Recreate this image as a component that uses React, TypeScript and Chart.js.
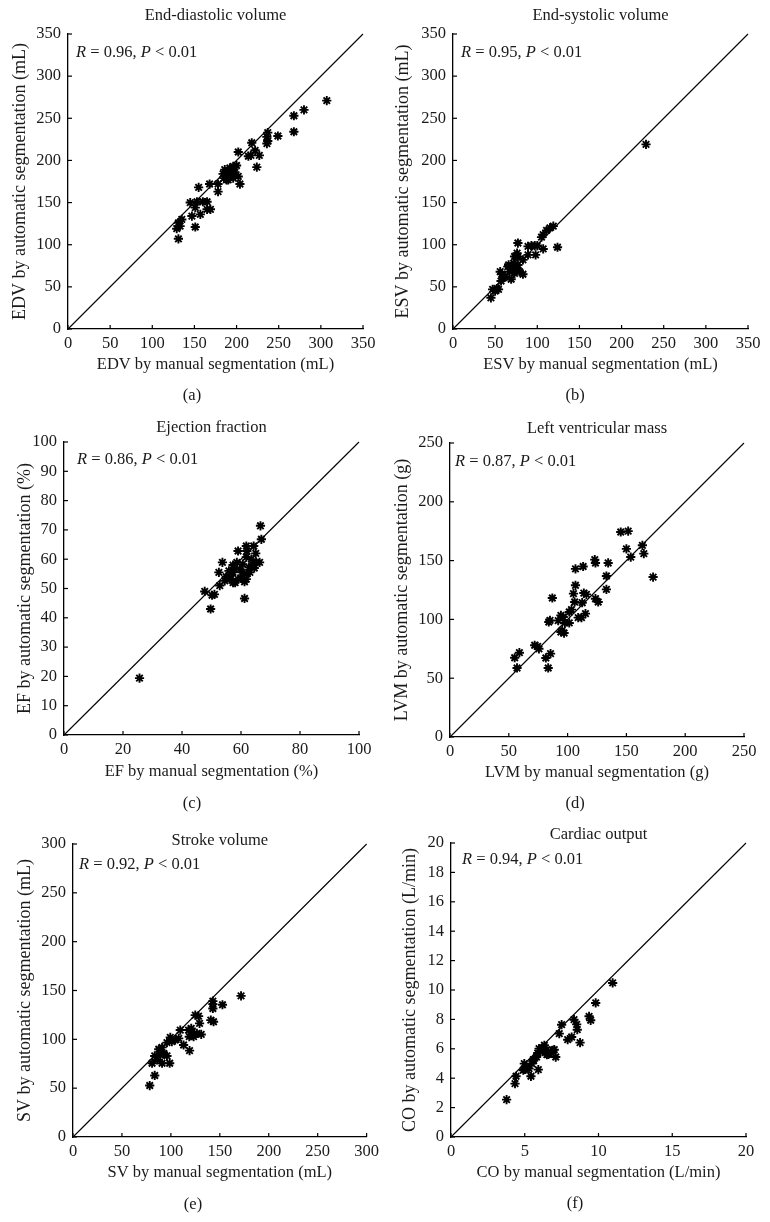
import React, { useEffect, useRef } from "react";
import { Chart, registerables } from "chart.js";
Chart.register(...registerables);

// ---------------- DATA ----------------
const edvManual = [307, 280, 268, 268, 249, 237, 236, 237, 236, 218, 222, 217, 227, 214, 224, 202, 202, 204, 200, 196, 192, 194, 188, 184, 185, 188, 192, 196, 198, 186, 190, 178, 168, 178, 155, 145, 153, 160, 165, 151, 165, 169, 147, 157, 151, 135, 131, 133, 129, 131];
const edvAuto = [271, 260, 253, 234, 229, 233, 228, 223, 220, 221, 212, 206, 206, 205, 192, 210, 181, 172, 194, 193, 191, 187, 185, 184, 179, 177, 181, 179, 186, 189, 177, 172, 172, 163, 168, 150, 151, 151, 151, 144, 142, 142, 134, 136, 121, 130, 126, 122, 119, 107];

const esvManual = [229, 124, 107, 115, 119, 111, 107, 105, 97, 93, 89, 98, 89, 83, 77, 76, 77, 73, 77, 76, 69, 79, 67, 73, 83, 65, 66, 56, 60, 57, 69, 54, 50, 47, 45, 100, 58, 74, 52, 62, 72];
const esvAuto = [219, 97, 95, 120, 122, 117, 112, 109, 99, 99, 98, 88, 88, 82, 102, 90, 86, 86, 76, 72, 74, 68, 68, 66, 65, 74, 76, 68, 61, 57, 59, 47, 45, 47, 37, 99, 65, 70, 48, 62, 78];

const efManual = [25.6, 49.7, 47.7, 50.2, 51, 52.8, 54.5, 52.5, 53.7, 61.2, 66.6, 66.9, 59, 61.8, 64.3, 62, 57.3, 56.2, 57.3, 59, 58.6, 57.3, 60.5, 61.8, 61.2, 63, 64, 65.2, 66.3, 65, 63.5, 62.7, 59.6, 57.8, 55.9, 61.8, 60.6, 58, 60, 64.5, 56.5, 62, 55];
const efAuto = [19.4, 43, 49, 47.7, 48, 51, 52.6, 55.5, 58.9, 46.6, 71.4, 66.8, 62.8, 64.5, 64.5, 62.8, 55.5, 53.2, 52, 53.2, 58.9, 58, 55.5, 53.2, 52.3, 55.5, 58, 58.9, 58.9, 62, 60, 57.2, 56.6, 56.6, 56, 60.7, 58.3, 52, 53.5, 57, 54.5, 55, 54];

const lvmManual = [55, 59, 57, 72, 74.5, 75.6, 81.5, 83.5, 85.5, 84, 85, 87, 92, 94.3, 96.3, 97.7, 95.4, 97, 94.3, 101.4, 101.4, 103.3, 106, 105, 106.7, 106.7, 109, 111.8, 113.2, 113.8, 112.4, 115.2, 116, 123.7, 126, 123.1, 123.7, 133, 133, 134.5, 145.2, 151.5, 150, 153.7, 163.6, 164.8, 172.7];
const lvmAuto = [67.4, 71.7, 58.7, 78, 77, 75, 67.2, 58.7, 70.9, 97.8, 99.2, 118.2, 99, 103.4, 102, 97, 90.7, 88.4, 89.3, 97, 106.3, 108.3, 114.8, 121.9, 129, 143, 101.5, 101.5, 145, 122.4, 114.2, 104.9, 121.3, 117.6, 114.8, 150.8, 148, 136.9, 125.5, 148, 174.3, 175.1, 160, 153, 163, 155.9, 136];

const svManual = [171.7, 152.7, 142.9, 142.9, 142.9, 140.8, 143.6, 124.9, 128.3, 129.3, 131, 126.6, 121.5, 120.8, 118, 118.8, 123.2, 119.1, 109.6, 108, 104.5, 113, 101, 99.4, 96, 91, 87.6, 92.7, 96, 89.3, 83.5, 86, 80.8, 91, 98.8, 83.5, 78.4];
const svAuto = [144.5, 135.4, 139.1, 136, 131.6, 119.7, 118, 124.8, 123.8, 116.3, 105, 106, 107.8, 111.2, 109.5, 102.7, 102.7, 88.4, 109.5, 101, 99.3, 94.2, 97.6, 102, 96.6, 91.8, 89.8, 85.7, 83, 84, 83, 78.9, 75.5, 75.5, 75.5, 63, 52.7];

const coManual = [10.96, 9.81, 9.36, 9.47, 8.34, 8.52, 8.56, 8.75, 7.5, 7.34, 7.91, 8.18, 7.0, 7.1, 6.82, 6.6, 6.49, 6.33, 6.15, 5.97, 5.88, 5.8, 5.58, 5.47, 5.92, 5.42, 4.97, 5.13, 4.9, 5.29, 4.41, 4.34, 3.77, 6.2, 5.6, 6.5, 5.0, 6.9];
const coAuto = [10.48, 9.12, 8.21, 7.94, 7.98, 7.66, 7.3, 6.42, 7.64, 7.03, 6.62, 6.8, 5.94, 5.44, 5.71, 5.62, 5.94, 6.24, 6.01, 6.01, 5.71, 5.44, 5.26, 4.99, 4.58, 4.13, 4.99, 4.76, 4.54, 4.65, 4.13, 3.63, 2.54, 5.8, 5.2, 5.6, 4.6, 5.9];

const titles = ["End-diastolic volume", "End-systolic volume", "Ejection fraction", "Left ventricular mass", "Stroke volume", "Cardiac output"];
const xTitles = ["EDV by manual segmentation (mL)", "ESV by manual segmentation (mL)", "EF by manual segmentation (%)", "LVM by manual segmentation (g)", "SV by manual segmentation (mL)", "CO by manual segmentation (L/min)"];
const yTitles = ["EDV by automatic segmentation (mL)", "ESV by automatic segmentation (mL)", "EF by automatic segmentation (%)", "LVM by automatic segmentation (g)", "SV by automatic segmentation (mL)", "CO by automatic segmentation (L/min)"];
const rValues = ["0.96", "0.95", "0.86", "0.87", "0.92", "0.94"];
const panelLabels = ["(a)", "(b)", "(c)", "(d)", "(e)", "(f)"];
const axisMax = [350, 350, 100, 250, 300, 20];
const xSteps = [50, 50, 20, 50, 50, 5];
const ySteps = [50, 50, 10, 50, 50, 2];
const manualSeries = [edvManual, esvManual, efManual, lvmManual, svManual, coManual];
const autoSeries = [edvAuto, esvAuto, efAuto, lvmAuto, svAuto, coAuto];

// ---------------- LAYOUT (page px) ----------------
const layouts = [
  { cx: 0, cy: 0, cw: 385, ch: 405, L: 68, T: 34, R: 363, B: 329, titleY: 16, yTitleX: 20, xTitleY: 365, labelX: 192, labelY: 396, annDx: 8, annDy: 19 },
  { cx: 385, cy: 0, cw: 385, ch: 405, L: 453, T: 34, R: 748, B: 329, titleY: 16, yTitleX: 403, xTitleY: 365, labelX: 575, labelY: 396, annDx: 8, annDy: 19 },
  { cx: 0, cy: 405, cw: 385, ch: 410, L: 64, T: 442, R: 359, B: 735, titleY: 428, yTitleX: 25, xTitleY: 772, labelX: 192, labelY: 804, annDx: 13, annDy: 18 },
  { cx: 385, cy: 405, cw: 385, ch: 410, L: 450, T: 443, R: 744, B: 737, titleY: 429, yTitleX: 402, xTitleY: 773, labelX: 575, labelY: 804, annDx: 5, annDy: 19 },
  { cx: 0, cy: 815, cw: 385, ch: 407, L: 73, T: 844, R: 369, B: 1137, titleY: 841, yTitleX: 25, xTitleY: 1173, labelX: 193, labelY: 1205, annDx: 6, annDy: 21 },
  { cx: 385, cy: 815, cw: 385, ch: 407, L: 451, T: 843, R: 746, B: 1137, titleY: 835, yTitleX: 410, xTitleY: 1173, labelX: 575, labelY: 1204, annDx: 11, annDy: 17 },
];

const FONT = "'Liberation Serif', 'Times New Roman', serif";
const INK = "#1a1a1a";
const TICK_SIZE = 16.5;
const XTITLE_SIZE = 16.5;
const YTITLE_SIZE = 18;
const TEXT_SIZE = 16.5;

function makeDecor(i: number) {
  const lay = layouts[i];
  return {
    id: "decor" + i,
    afterDraw(chart: any) {
      const { ctx, chartArea: ca, scales } = chart;
      ctx.save();
      ctx.strokeStyle = "#000";
      ctx.lineWidth = 1.2;
      const xs = scales.x;
      const ys = scales.y;
      xs.ticks.forEach((t: any) => {
        const px = xs.getPixelForValue(t.value);
        ctx.beginPath();
        ctx.moveTo(px, ca.bottom);
        ctx.lineTo(px, ca.bottom - 4);
        ctx.stroke();
      });
      ys.ticks.forEach((t: any) => {
        const py = ys.getPixelForValue(t.value);
        ctx.beginPath();
        ctx.moveTo(ca.left, py);
        ctx.lineTo(ca.left + 4, py);
        ctx.stroke();
      });
      ctx.fillStyle = INK;
      ctx.textBaseline = "middle";
      ctx.textAlign = "center";
      ctx.font = `${TEXT_SIZE}px ${FONT}`;
      ctx.fillText(titles[i], (ca.left + ca.right) / 2, lay.titleY - lay.cy);
      ctx.fillText(panelLabels[i], lay.labelX - lay.cx, lay.labelY - lay.cy);
      ctx.textAlign = "left";
      const parts: [string, boolean][] = [
        ["R", true],
        [" = " + rValues[i] + ", ", false],
        ["P", true],
        [" < 0.01", false],
      ];
      let x = ca.left + lay.annDx;
      const y = ca.top + lay.annDy;
      parts.forEach(([txt, it]) => {
        ctx.font = `${it ? "italic " : ""}${TEXT_SIZE}px ${FONT}`;
        ctx.fillText(txt, x, y);
        x += ctx.measureText(txt).width;
      });
      ctx.restore();
    },
  };
}

function Panel({ i }: { i: number }) {
  const ref = useRef<HTMLCanvasElement | null>(null);
  const lay = layouts[i];
  useEffect(() => {
    if (!ref.current) return;
    const max = axisMax[i];
    const padLeft = lay.yTitleX - lay.cx - YTITLE_SIZE / 2;
    const yW = lay.L - lay.cx - padLeft;
    const xH = lay.xTitleY - lay.B + XTITLE_SIZE / 2;
    const padTop = lay.T - lay.cy;
    const padBottom = lay.cy + lay.ch - lay.B - xH;
    const padRight = lay.cx + lay.cw - lay.R;
    const pts = manualSeries[i].map((v, k) => ({ x: v, y: autoSeries[i][k] }));
    const chart = new Chart(ref.current, {
      type: "scatter",
      data: {
        datasets: [
          {
            data: pts,
            pointStyle: "star",
            pointRadius: 4.6,
            pointBorderWidth: 1.9,
            borderWidth: 1.9,
            borderColor: "#000",
            backgroundColor: "#000",
            showLine: false,
            order: 0,
          } as any,
          {
            data: [
              { x: 0, y: 0 },
              { x: max, y: max },
            ],
            showLine: true,
            borderColor: "#000",
            borderWidth: 1.1,
            pointRadius: 0,
            clip: false,
            order: 1,
          } as any,
        ],
      },
      options: {
        animation: false,
        responsive: false,
        devicePixelRatio: 1,
        events: [],
        layout: { padding: { left: padLeft, top: padTop, right: padRight, bottom: padBottom } },
        plugins: { legend: { display: false }, tooltip: { enabled: false }, title: { display: false } },
        scales: {
          x: {
            type: "linear",
            min: 0,
            max: max,
            grid: { display: false, drawTicks: false, tickLength: 0 },
            border: { display: true, color: "#000", width: 1.3 },
            ticks: {
              stepSize: xSteps[i],
              padding: 6,
              color: INK,
              autoSkip: false,
              maxRotation: 0,
              font: { family: FONT, size: TICK_SIZE, lineHeight: 1 },
            },
            title: {
              display: true,
              text: xTitles[i],
              color: INK,
              padding: 0,
              font: { family: FONT, size: XTITLE_SIZE, lineHeight: 1 },
            },
            afterFit: (s: any) => {
              s.height = xH;
            },
          },
          y: {
            type: "linear",
            min: 0,
            max: max,
            grid: { display: false, drawTicks: false, tickLength: 0 },
            border: { display: true, color: "#000", width: 1.3 },
            ticks: {
              stepSize: ySteps[i],
              padding: 7,
              color: INK,
              autoSkip: false,
              font: { family: FONT, size: TICK_SIZE, lineHeight: 1 },
            },
            title: {
              display: true,
              text: yTitles[i],
              color: INK,
              padding: 0,
              font: { family: FONT, size: YTITLE_SIZE, lineHeight: 1 },
            },
            afterFit: (s: any) => {
              s.width = yW;
            },
          },
        },
      } as any,
      plugins: [makeDecor(i)],
    });
    return () => chart.destroy();
  }, [i]);
  return (
    <canvas
      ref={ref}
      width={lay.cw}
      height={lay.ch}
      style={{ position: "absolute", left: lay.cx, top: lay.cy, width: lay.cw, height: lay.ch }}
    />
  );
}

export default function App() {
  return (
    <div style={{ position: "absolute", left: 0, top: 0, width: 770, height: 1222, background: "#fff", overflow: "hidden" }}>
      {layouts.map((_, i) => (
        <Panel key={i} i={i} />
      ))}
    </div>
  );
}
